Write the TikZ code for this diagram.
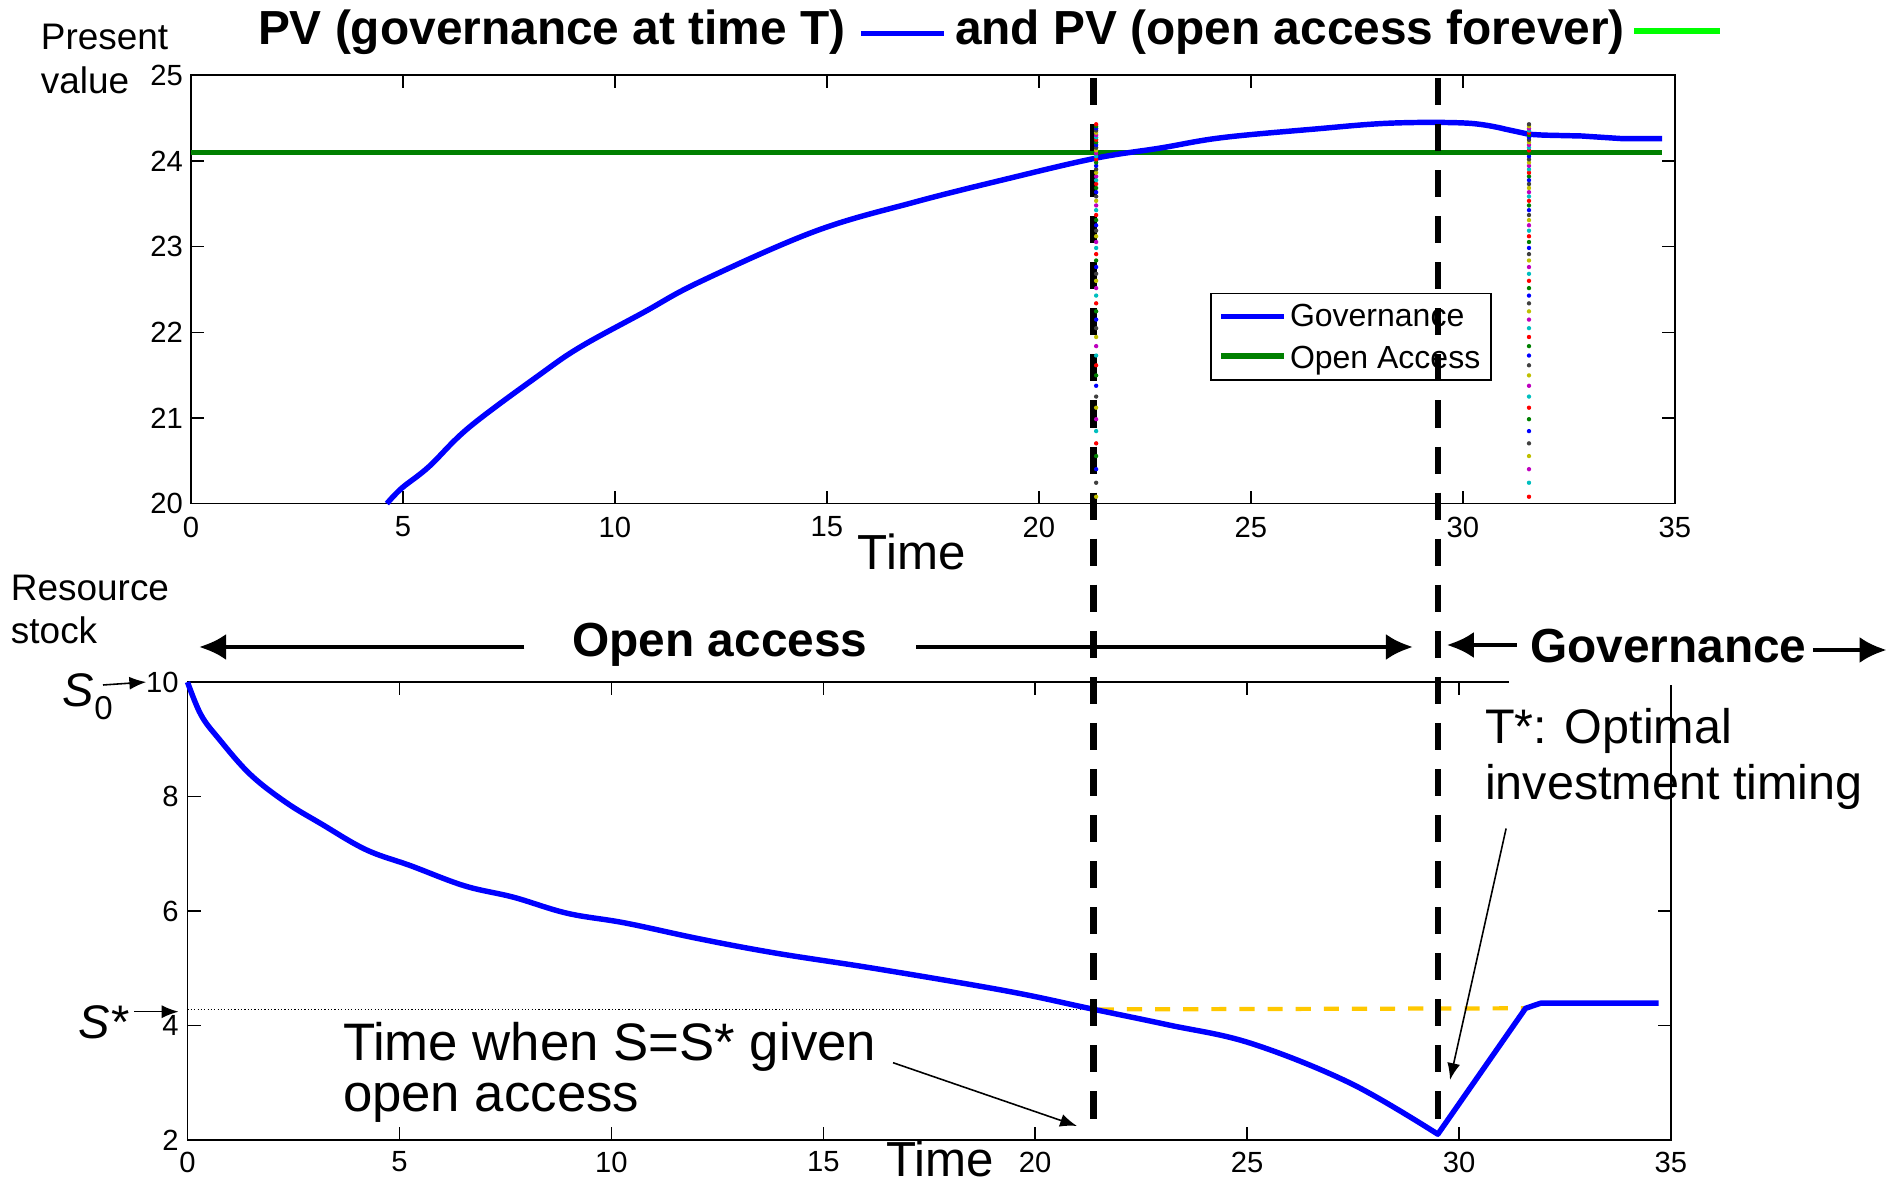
\documentclass[tikz,border=0pt]{standalone}
\usepackage{fontspec}
\setmainfont{Liberation Sans}
\usepackage{tikz}
\usetikzlibrary{arrows.meta,positioning}
\usepackage{xcolor}

\definecolor{pvblue}{rgb}{0,0,1}
\definecolor{pvgreen}{rgb}{0,0.5,0}
\definecolor{keygreen}{rgb}{0,1,0}
\definecolor{sgold}{RGB}{255,200,0}
% dot colours, in plotting order
\definecolor{dot0}{rgb}{1,0,0}
\definecolor{dot1}{rgb}{0,0.75,0.75}
\definecolor{dot2}{rgb}{0.75,0,0.75}
\definecolor{dot3}{rgb}{0.75,0.75,0}
\definecolor{dot4}{rgb}{0.25,0.25,0.25}
\definecolor{dot5}{rgb}{0,0,1}
\definecolor{dot6}{rgb}{0,0.5,0}

\newcommand{\fsz}[1]{\fontsize{#1}{#1}\selectfont}

\begin{document}
\begin{tikzpicture}[x=0.01cm,y=-0.01cm]
    \tikzstyle{lbl} = [inner sep=0pt, outer sep=0pt]
    \tikzstyle{ticklbl} = [lbl, font=\fsz{8.3}]
    \tikzstyle{sidelbl} = [lbl, anchor=base west, font=\fsz{10.5}]
    \tikzstyle{boldlbl} = [lbl, anchor=base west, font=\fsz{13.6}\bfseries]
    \tikzstyle{notelbl} = [lbl, anchor=base west, font=\fsz{14}]
    \tikzstyle{legtxt} = [lbl, anchor=base west, font=\fsz{9.1}]
    \tikzstyle{axframe} = [draw, line width=0.5pt]
    \tikzstyle{axtick} = [draw, line width=0.4pt]
    \tikzstyle{pvline} = [draw=pvblue, line width=1.55pt, line join=round]
    \tikzstyle{vmark} = [draw, line width=1.9pt, dash pattern=on 7.7pt off 5.4pt]
    \tikzstyle{bigarrow} = [draw, line width=1.3pt, -{Latex[length=7.7pt,width=7.4pt]}]
    \tikzstyle{smallarrow} = [draw, line width=0.45pt, -{Latex[length=4.8pt,width=3.7pt]}]

    \useasboundingbox (0,0) rectangle (1902,1183);

    % Title
    \node[boldlbl] (ttlA) at (258,44.6) {PV (governance at time T)};
    \draw[pvblue, line width=1.6pt] (861,33.5) -- (944,33.5);
    \node[boldlbl] (ttlB) at (955,44.6) {and PV (open access forever)};
    \draw[keygreen, line width=1.7pt] (1634,31.5) -- (1720,31.5);

    \node[sidelbl] (pvA) at (41,50) {Present};
    \node[sidelbl] (pvB) at (41,93.6) {value};

    % Upper panel
    \begin{scope}[shift={(191,2217.4)}, x=0.4237cm, y=0.8564cm]
      \draw[axframe] (0,20) rectangle (35,25);
      \foreach \t in {5,10,...,30} {
        \draw[axtick] (\t,20) -- ++(0pt,3.7pt);
        \draw[axtick] (\t,25) -- ++(0pt,-3.7pt);
      }
      \foreach \v in {21,...,24} {
        \draw[axtick] (0,\v) -- ++(3.7pt,0pt);
        \draw[axtick] (35,\v) -- ++(-3.7pt,0pt);
      }
      \foreach \t in {0,5,...,35}
        \node[ticklbl] (tx\t) at ([yshift=-6.65pt]\t,20) {\t};
      \foreach \v in {20,...,25}
        \node[ticklbl, anchor=east] (ty\v) at ([xshift=-2.3pt]0,\v) {\v};
      \node[notelbl, anchor=base] (timeA) at ([yshift=-18.7pt]17,20) {Time};

      \draw[pvgreen, line width=1.5pt] (0,24.1) -- (34.7,24.1);
      \draw[pvline] plot[smooth, tension=0.6] coordinates {(4.62,20.0) (4.97,20.18)
        (5.61,20.43) (6.56,20.89) (8.24,21.51) (9.19,21.83) (10.67,22.23)
        (12.01,22.59) (14.73,23.18) (17.08,23.52) (19.25,23.79) (21.33,24.03)
        (22.87,24.15) (24.31,24.27) (26.48,24.37) (28.3,24.44) (30.1,24.44)
        (31.0,24.37)} -- (31.56,24.31) -- (31.9,24.3) -- (32.8,24.29)
        -- (33.73,24.26) -- (34.7,24.26);
    \end{scope}

    % Legend
    \draw[line width=0.45pt, fill=white] (1211,293.6) rectangle (1491,380);
    \draw[pvblue, line width=1.5pt] (1221,316.5) -- (1284,316.5);
    \node[legtxt] (keyGov) at (1290,326.7) {Governance};
    \draw[pvgreen, line width=1.5pt] (1221,356) -- (1284,356);
    \node[legtxt] (keyOpen) at (1290,368.3) {Open Access};

    % Lower panel
    \node[sidelbl] (rsA) at (11,600.5) {Resource};
    \node[sidelbl] (rsB) at (11,643.4) {stock};
    \begin{scope}[shift={(187.5,1254.4)}, x=0.4236cm, y=0.572cm]
      \draw[axframe] (31.17,10) -- (0,10) -- (0,2) -- (35,2) -- (35,9.95);
      \foreach \t in {5,10,...,30} {
        \draw[axtick] (\t,2) -- ++(0pt,3.7pt);
        \draw[axtick] (\t,10) -- ++(0pt,-3.7pt);
      }
      \foreach \v in {4,6,8}
        \draw[axtick] (0,\v) -- ++(3.7pt,0pt);
      \foreach \v in {4,6}
        \draw[axtick] (35,\v) -- ++(-3.7pt,0pt);
      \foreach \t in {0,5,...,35}
        \node[ticklbl] (bx\t) at ([yshift=-6.3pt]\t,2) {\t};
      \foreach \v in {2,4,...,10}
        \node[ticklbl, anchor=east] (ly\v) at ([xshift=-2.5pt]0,\v) {\v};
      \node[notelbl, anchor=base] (timeB) at ([yshift=-10.3pt]17.75,2) {Time};

      \draw[line width=0.35pt, dash pattern=on 0.35pt off 0.6pt] (0,4.28) -- (21.33,4.28);
      \draw[sgold, line width=1.2pt, dash pattern=on 4.3pt off 3.7pt] (21.5,4.28) -- (31.57,4.3);
      \draw[pvline] plot[smooth, tension=0.6] coordinates {(0,10) (0.316,9.43)
        (0.738,9.01) (1.475,8.39) (2.318,7.9) (3.161,7.52) (4.214,7.07)
        (5.269,6.79) (6.534,6.44) (7.694,6.24) (8.959,5.96) (10.33,5.79)
        (12.1,5.51) (13.91,5.26) (16.26,4.99) (19.34,4.6) (21.33,4.29)
        (23.14,4.01) (25.08,3.69) (27.44,2.99) (29.5,2.1)}
        -- (31.57,4.3) -- (31.93,4.39) -- (34.71,4.39);
    \end{scope}

    % Time markers
    \draw[vmark] (1093.5,78) -- (1093.5,1133);
    \draw[vmark] (1438,78) -- (1438,1133);

    % Coloured dots of the PV curves
    \begin{scope}[shift={(191,2217.4)}, x=0.4237cm, y=0.8564cm]
      \foreach \k in {0,...,60} {
        \pgfmathsetmacro{\yy}{20.08+5.046*(1-0.9676^\k)}
        \pgfmathtruncatemacro{\ca}{mod(\k+3,7)}
        \pgfmathtruncatemacro{\cb}{mod(\k,7)}
        \fill[dot\ca] (21.35,\yy) circle[radius=0.62pt];
        \fill[dot\cb] (31.56,\yy) circle[radius=0.62pt];
      }
    \end{scope}

    % Regime labels
    \node[boldlbl] (openlbl) at (572.5,657) {Open access};
    \coordinate (oaLtip) at (199,647);
    \coordinate (oaRtip) at (1413,647);
    \draw[bigarrow, shorten <=13.7pt] (openlbl.west |- oaLtip) -- (oaLtip);
    \draw[bigarrow, shorten <=13.8pt] (openlbl.east |- oaRtip) -- (oaRtip);

    \node[boldlbl] (govlbl) at (1530,662.5) {Governance};
    \coordinate (gvLtip) at (1446.7,645);
    \coordinate (gvRtip) at (1886.7,650);
    \draw[bigarrow, shorten <=3.8pt] (govlbl.west |- gvLtip) -- (gvLtip);
    \draw[bigarrow, shorten <=1.8pt] (govlbl.east |- gvRtip) -- (gvRtip);

    % Stock levels
    \node[lbl, anchor=base west] (szero) at (63,706.7)
      {\fsz{13.4}\textit{S}\raisebox{-3.7pt}{\fsz{9.4}0}};
    \coordinate (s0tail) at (103,685);
    \draw[smallarrow] (s0tail) -- (ly10.west);
    \node[lbl, anchor=base west] (sstar) at (78,1039) {\fsz{13.4}\textit{S*}};
    \coordinate (sstail) at (134,1011.7);
    \coordinate (sstip) at (178.6,1011.7);
    \draw[smallarrow] (sstail) -- (sstip);

    % Notes
    \node[notelbl, font=\fsz{13.8}] (optA) at (1485,743.3) {T*: Optimal};
    \node[notelbl, font=\fsz{13.8}] (optB) at (1485,799.3) {investment timing};
    \coordinate (optTip) at (1450,1080);
    \draw[smallarrow] ([shift={(6pt,-8.3pt)}]optB.base west) -- (optTip);

    \node[notelbl, font=\fsz{15}] (whenA) at (343,1060.6) {Time when S=S* given};
    \node[notelbl, font=\fsz{15}] (whenB) at (343,1112) {open access};
    \coordinate (whenTip) at (1077,1126);
    \draw[smallarrow] ([shift={(4.8pt,-0.6pt)}]whenA.base east) -- (whenTip);

  \end{tikzpicture}
\end{document}
